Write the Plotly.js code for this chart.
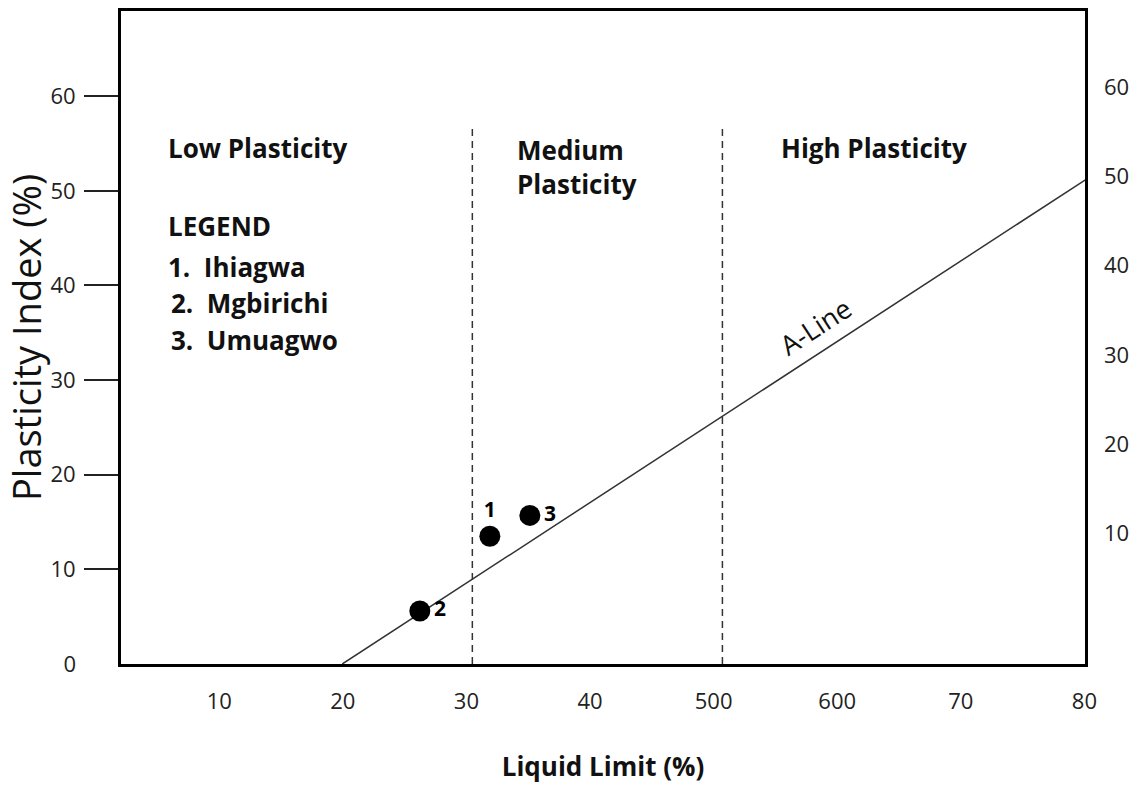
<!DOCTYPE html>
<html>
<head>
<meta charset="utf-8">
<script src="https://cdn.plot.ly/plotly-3.0.1.min.js"></script>
<style>
  html, body { margin: 0; padding: 0; background: #fff; }
  #chart { width: 1143px; height: 785px; }
</style>
</head>
<body>
<div id="chart"></div>
<script>
// ---- data ----
const siteIds = ['1', '2', '3'];
const siteNames = ['Ihiagwa', 'Mgbirichi', 'Umuagwo'];
const liquidLimit = [31.4, 25.8, 34.6];
const plasticityIndex = [13.5, 5.6, 15.7];

const aLineLL = [19.6, 80];
const aLinePI = [0, 52];

const zoneBoundaries = [30, 50];
const zoneTopPI = 56.7;
const zoneNames = ['Low Plasticity', 'Medium<br>Plasticity', 'High Plasticity'];

const xTickVals = [10, 20, 30, 40, 50, 60, 70, 80];
const xTickText = ['10', '20', '30', '40', '500', '600', '70', '80'];
const yLeftTickVals = [10, 20, 30, 40, 50, 60];
const yZeroTick = [0];
const yRightTickVals = [10, 20, 30, 40, 50, 60];

// ---- styling ----
const FONT = '"Open Sans", Lato, sans-serif';
const INK = '#111';
const TICKINK = '#222';

const traces = [];

// dashed zone boundaries
zoneBoundaries.forEach(b => {
  traces.push({
    type: 'scatter', mode: 'lines',
    x: [b, b], y: [0, zoneTopPI],
    line: { color: '#333', width: 1.5, dash: '7px,5px' },
    hoverinfo: 'skip', showlegend: false
  });
});

// A-line
traces.push({
  type: 'scatter', mode: 'lines',
  x: aLineLL, y: aLinePI,
  line: { color: '#333', width: 1.5 },
  hoverinfo: 'skip', showlegend: false
});

// sample points
traces.push({
  type: 'scatter', mode: 'markers+text',
  x: liquidLimit, y: plasticityIndex,
  text: siteIds.map(s => '<b>' + s + '</b>'),
  textposition: ['top center', 'middle right', 'middle right'],
  textfont: { family: FONT, size: 21, color: '#000' },
  marker: { size: 21, color: '#000' },
  cliponaxis: false,
  hoverinfo: 'skip', showlegend: false
});

// carrier traces so the label-only axes get drawn
traces.push({ type: 'scatter', mode: 'none', x: [], y: [], xaxis: 'x2', yaxis: 'y', hoverinfo: 'skip', showlegend: false });
traces.push({ type: 'scatter', mode: 'none', x: [], y: [], xaxis: 'x', yaxis: 'y2', hoverinfo: 'skip', showlegend: false });
traces.push({ type: 'scatter', mode: 'none', x: [], y: [], xaxis: 'x', yaxis: 'y3', hoverinfo: 'skip', showlegend: false });

const annotations = [];
// zone names
const zonePos = [
  { x: 5.5, y: 54.5 },
  { x: 33.4, y: 52.5 },
  { x: 54.5, y: 54.5 }
];
zoneNames.forEach((n, i) => {
  annotations.push({
    x: zonePos[i].x, y: zonePos[i].y, xref: 'x', yref: 'y',
    xanchor: 'left', yanchor: 'middle', align: 'left',
    text: '<b>' + n + '</b>', showarrow: false,
    font: { family: FONT, size: 26, color: INK }
  });
});

// legend block
annotations.push({
  x: 5.5, y: 46.3, xref: 'x', yref: 'y', xanchor: 'left', yanchor: 'middle',
  text: '<b>LEGEND</b>', showarrow: false,
  font: { family: FONT, size: 26, color: INK }
});
const legendY = [41.9, 38.1, 34.2];
const legendX = [5.5, 5.7, 5.7];
siteNames.forEach((n, i) => {
  annotations.push({
    x: legendX[i], y: legendY[i], xref: 'x', yref: 'y', xanchor: 'left', yanchor: 'middle',
    text: '<b>' + siteIds[i] + '.&nbsp;&nbsp;' + n + '</b>', showarrow: false,
    font: { family: FONT, size: 26, color: INK }
  });
});

// A-line label
annotations.push({
  x: 57.4, y: 35.7, xref: 'x', yref: 'y',
  text: 'A-Line', textangle: -33, showarrow: false,
  font: { family: FONT, size: 27, color: INK }
});

const layout = {
  width: 1143, height: 785,
  margin: { l: 121, r: 58, t: 11, b: 121, pad: 0 },
  paper_bgcolor: '#fff', plot_bgcolor: '#fff',
  font: { family: FONT, color: INK },
  showlegend: false,
  hovermode: false,
  xaxis: {
    range: [1.9, 79.0],
    showticklabels: false, ticks: '',
    showline: true, mirror: true, linecolor: '#000', linewidth: 3,
    showgrid: false, zeroline: false,
    title: { text: '<b>Liquid Limit (%)</b>', font: { family: FONT, size: 26, color: INK }, standoff: 92 }
  },
  xaxis2: {
    overlaying: 'x', side: 'bottom', anchor: 'y',
    range: [2.05, 80.05],
    tickvals: xTickVals, ticktext: xTickText,
    ticks: '', ticklabelstandoff: 22,
    tickfont: { family: FONT, size: 22, color: TICKINK },
    showline: false, showgrid: false, zeroline: false
  },
  yaxis: {
    range: [0, 69],
    tickvals: yLeftTickVals,
    ticks: 'outside', ticklen: 34, tickwidth: 2, tickcolor: '#222',
    ticklabelstandoff: 4,
    tickfont: { family: FONT, size: 22, color: TICKINK },
    showline: true, mirror: true, linecolor: '#000', linewidth: 3,
    showgrid: false, zeroline: false,
    title: { text: 'Plasticity Index (%)', font: { family: FONT, size: 38, color: INK }, standoff: 7 }
  },
  yaxis3: {
    overlaying: 'y', side: 'left', anchor: 'x',
    range: [0, 69],
    tickvals: yZeroTick, ticktext: ['0'],
    ticks: '', ticklabelstandoff: 44,
    tickfont: { family: FONT, size: 22, color: TICKINK },
    showline: false, showgrid: false, zeroline: false
  },
  yaxis2: {
    overlaying: 'y', side: 'right', anchor: 'x',
    range: [-4.7, 68.6],
    tickvals: yRightTickVals,
    ticks: '', ticklabelstandoff: 18,
    tickfont: { family: FONT, size: 22, color: TICKINK },
    showline: false, showgrid: false, zeroline: false
  },
  annotations: annotations
};

Plotly.newPlot('chart', traces, layout, { displayModeBar: false, staticPlot: true });
</script>
</body>
</html>
